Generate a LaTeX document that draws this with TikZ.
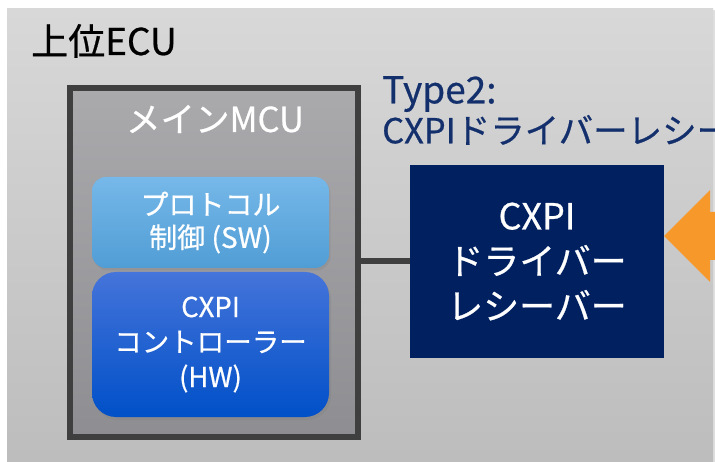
\documentclass[tikz,border=0pt]{standalone}
\usepackage{fontspec}
\setmainfont{Noto Sans CJK JP}[FakeBold=0.6]
\usetikzlibrary{shadows}
\definecolor{ecutop}{HTML}{D8D8D9}
\definecolor{ecubot}{HTML}{BBBBBC}
\definecolor{mcutop}{HTML}{AAA9AC}
\definecolor{mcubot}{HTML}{8E8D91}
\definecolor{mcuborder}{HTML}{3F3F3F}
\definecolor{prototop}{HTML}{76B8E9}
\definecolor{protobot}{HTML}{509DD5}
\definecolor{ctrltop}{HTML}{4574DA}
\definecolor{ctrlbot}{HTML}{0050C8}
\definecolor{drvblue}{HTML}{002060}
\definecolor{typeblue}{HTML}{13306C}
\definecolor{arroworange}{HTML}{F7982A}
\tikzset{
  ecubox/.style={draw=none, top color=ecutop, bottom color=ecubot,
    drop shadow={opacity=0.25, shadow xshift=1.5pt, shadow yshift=-1.5pt}},
  mcubox/.style={draw=mcuborder, line width=6pt, top color=mcutop, bottom color=mcubot,
    minimum width=287.5pt, minimum height=348.5pt, inner sep=0pt},
  protobox/.style={draw=none, rounded corners=14pt, top color=prototop, bottom color=protobot,
    minimum width=237pt, minimum height=91pt, text=white, align=center, inner sep=0pt,
    font=\fontsize{28}{33}\selectfont,
    drop shadow={opacity=0.25, shadow xshift=1.5pt, shadow yshift=-2.5pt}},
  ctrlbox/.style={draw=none, rounded corners=24pt, top color=ctrltop, bottom color=ctrlbot,
    minimum width=237pt, minimum height=145pt, text=white, align=center, inner sep=0pt,
    font=\fontsize{27.5}{35}\selectfont,
    drop shadow={opacity=0.3, shadow xshift=2pt, shadow yshift=-3pt}},
  drvbox/.style={draw=none, fill=drvblue, minimum width=254pt, minimum height=193pt,
    text=white, align=center, inner sep=0pt, font=\fontsize{36}{45}\selectfont},
  conn/.style={draw=mcuborder, line width=6pt},
  title/.style={inner sep=0pt, font=\fontsize{37}{40}\selectfont, text=black},
  whitelabel/.style={inner sep=0pt, font=\fontsize{34.5}{38}\selectfont, text=white},
  typelabel/.style={inner sep=0pt, font=\fontsize{34.5}{40}\selectfont, text=typeblue, align=left},
}
\begin{document}
\begin{tikzpicture}[x=1pt, y=-1pt]
\clip (0,0) rectangle (715,462);
\fill[white] (0,0) rectangle (715,462);
% outer ECU box
\path[ecubox] (7,9) rectangle (713,490);
\node[title, anchor=base west] (ecutitle) at (31,55) {上位ECU};
% main MCU
\node[mcubox] (mcu) at (213.75,262.75) {};
\node[whitelabel, anchor=base] (mcutitle) at (215,132) {メインMCU};
\node[protobox] (proto) at (210.5,222.5) {プロトコル\\制御 (SW)};
\node[ctrlbox] (ctrl) at (210.5,344.5) {CXPI\\コントローラー\\(HW)};
% driver receiver
\node[drvbox] (drv) at (537,261.5) {CXPI\\ドライバー\\レシーバー};
\node[typelabel, anchor=north west] (type) at (382,76) {{\fontsize{37}{40}\selectfont Type2:}\\CXPIドライバーレシーバー};
% connector
\draw[conn] (mcu.east |- drv.west) -- (drv.west);
% orange arrow
\coordinate (tip) at (drv.east |- 0,236);
\fill[arroworange] (tip) -- ++(46,-46) -- ++(0,22) -- ++(20,0) -- ++(0,48) -- ++(-20,0) -- ++(0,22) -- cycle;
\end{tikzpicture}
\end{document}
